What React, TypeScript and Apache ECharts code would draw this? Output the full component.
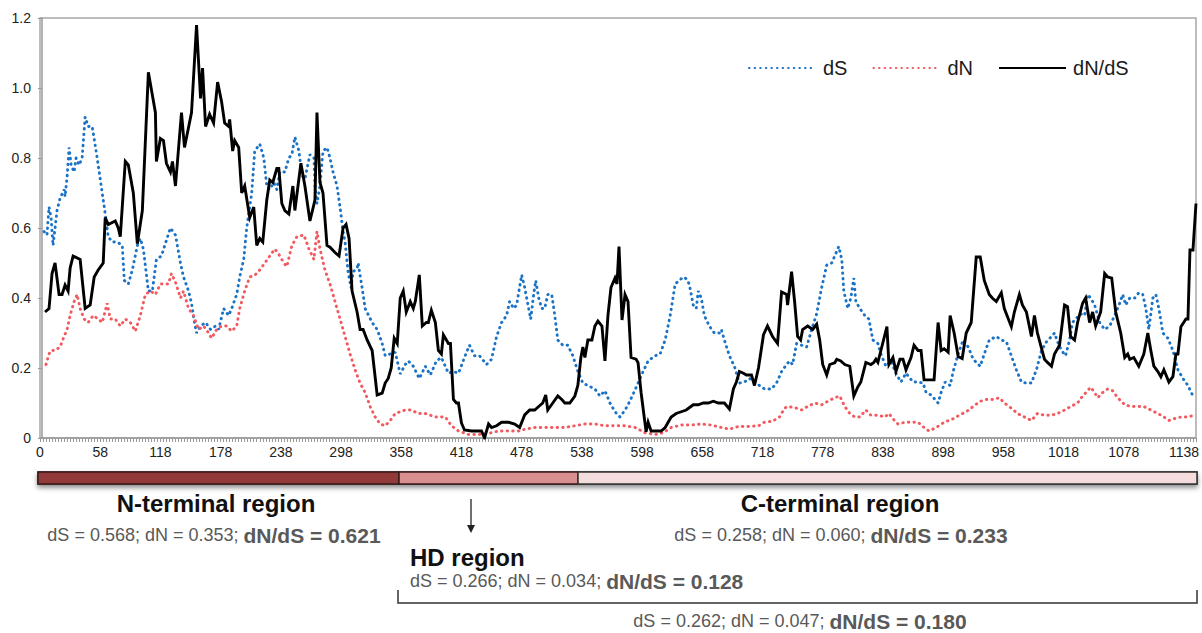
import React, { useEffect, useRef } from "react";
import * as echarts from "echarts";

// x positions (codon position) and values
const dS: [number, number][] = [[2,0.59],[5,0.58],[7,0.66],[9,0.63],[11,0.55],[13,0.60],[15,0.65],[18,0.685],[22,0.71],[23,0.69],[25,0.746],[27,0.83],[29,0.78],[32,0.76],[34,0.80],[37,0.78],[40,0.80],[43,0.917],[46,0.89],[50,0.89],[55,0.80],[60,0.70],[63,0.64],[66,0.575],[70,0.56],[75,0.56],[80,0.55],[82,0.45],[86,0.44],[90,0.48],[95,0.55],[98,0.57],[101,0.54],[106,0.42],[110,0.42],[114,0.51],[119,0.52],[124,0.565],[128,0.60],[133,0.58],[138,0.50],[141,0.46],[146,0.42],[149,0.385],[152,0.33],[154,0.30],[158,0.32],[163,0.33],[168,0.31],[173,0.32],[176,0.31],[181,0.37],[186,0.35],[189,0.37],[194,0.41],[197,0.46],[201,0.51],[204,0.60],[206,0.64],[209,0.70],[212,0.82],[217,0.84],[221,0.80],[224,0.72],[227,0.71],[231,0.73],[234,0.71],[237,0.76],[242,0.76],[246,0.80],[249,0.81],[252,0.86],[256,0.82],[259,0.75],[262,0.74],[267,0.81],[271,0.80],[272,0.72],[274,0.67],[277,0.72],[280,0.82],[284,0.83],[287,0.80],[290,0.76],[294,0.72],[297,0.66],[300,0.59],[302,0.56],[305,0.475],[308,0.43],[310,0.475],[314,0.485],[315,0.50],[319,0.43],[322,0.37],[329,0.33],[334,0.31],[339,0.27],[342,0.235],[347,0.24],[352,0.245],[357,0.183],[362,0.21],[365,0.22],[370,0.205],[376,0.17],[382,0.205],[387,0.18],[393,0.22],[398,0.23],[405,0.185],[410,0.19],[415,0.185],[421,0.23],[426,0.265],[431,0.235],[436,0.235],[443,0.21],[448,0.225],[453,0.29],[458,0.33],[463,0.35],[466,0.39],[470,0.37],[473,0.38],[478,0.466],[481,0.43],[485,0.37],[487,0.34],[490,0.41],[492,0.45],[495,0.40],[498,0.37],[501,0.37],[504,0.41],[508,0.41],[511,0.35],[514,0.28],[519,0.265],[524,0.265],[529,0.235],[534,0.19],[539,0.157],[544,0.15],[551,0.14],[556,0.12],[561,0.135],[566,0.10],[571,0.075],[576,0.06],[581,0.08],[584,0.095],[589,0.125],[594,0.157],[599,0.19],[604,0.22],[611,0.235],[616,0.24],[621,0.28],[626,0.35],[631,0.44],[635,0.45],[639,0.46],[642,0.455],[645,0.44],[649,0.38],[652,0.37],[654,0.42],[657,0.40],[660,0.35],[665,0.32],[670,0.30],[675,0.30],[677,0.31],[680,0.28],[685,0.235],[690,0.205],[695,0.157],[700,0.16],[705,0.17],[710,0.16],[715,0.15],[720,0.14],[727,0.14],[732,0.157],[737,0.19],[742,0.21],[745,0.22],[748,0.21],[752,0.27],[757,0.265],[762,0.26],[767,0.31],[772,0.355],[777,0.43],[782,0.494],[787,0.50],[790,0.52],[794,0.547],[797,0.51],[799,0.42],[803,0.37],[806,0.40],[809,0.457],[811,0.39],[815,0.37],[820,0.35],[824,0.34],[828,0.28],[833,0.27],[836,0.24],[841,0.205],[846,0.22],[851,0.185],[856,0.16],[861,0.185],[868,0.16],[873,0.16],[878,0.157],[881,0.13],[886,0.123],[893,0.10],[896,0.13],[900,0.16],[905,0.15],[908,0.19],[913,0.24],[918,0.28],[923,0.26],[928,0.225],[935,0.205],[939,0.24],[944,0.28],[951,0.29],[956,0.28],[961,0.275],[966,0.235],[971,0.195],[976,0.16],[981,0.157],[986,0.157],[991,0.195],[996,0.25],[1001,0.275],[1006,0.29],[1009,0.30],[1012,0.275],[1016,0.25],[1020,0.235],[1024,0.28],[1027,0.33],[1030,0.34],[1035,0.355],[1039,0.35],[1042,0.41],[1045,0.40],[1049,0.38],[1054,0.33],[1059,0.31],[1064,0.32],[1069,0.35],[1074,0.385],[1077,0.41],[1080,0.38],[1084,0.40],[1089,0.40],[1093,0.415],[1097,0.41],[1100,0.37],[1103,0.31],[1107,0.40],[1110,0.41],[1113,0.37],[1117,0.30],[1122,0.285],[1127,0.25],[1132,0.195],[1137,0.17],[1142,0.15],[1147,0.12],[1149,0.115]];

const dN: [number, number][] = [[4,0.21],[7,0.24],[9,0.25],[13,0.25],[18,0.26],[22,0.29],[25,0.31],[28,0.35],[32,0.39],[35,0.41],[38,0.37],[42,0.34],[46,0.33],[51,0.35],[56,0.34],[60,0.33],[65,0.385],[68,0.34],[73,0.34],[78,0.32],[83,0.34],[88,0.33],[93,0.305],[98,0.35],[103,0.41],[108,0.42],[113,0.41],[118,0.44],[123,0.44],[126,0.44],[129,0.47],[133,0.445],[138,0.40],[141,0.42],[146,0.37],[151,0.35],[156,0.31],[161,0.32],[166,0.30],[169,0.285],[174,0.31],[179,0.32],[184,0.32],[189,0.305],[194,0.32],[197,0.37],[202,0.42],[207,0.46],[212,0.465],[217,0.48],[222,0.50],[227,0.52],[232,0.54],[236,0.525],[241,0.50],[244,0.49],[249,0.55],[254,0.575],[261,0.58],[266,0.54],[271,0.51],[274,0.59],[277,0.54],[282,0.48],[287,0.44],[292,0.39],[297,0.34],[302,0.29],[307,0.24],[312,0.195],[317,0.157],[322,0.13],[327,0.09],[332,0.06],[337,0.04],[342,0.035],[347,0.05],[352,0.07],[357,0.075],[362,0.08],[368,0.08],[375,0.07],[382,0.07],[392,0.06],[402,0.06],[408,0.035],[415,0.02],[425,0.01],[435,0.01],[445,0.013],[455,0.02],[465,0.02],[475,0.02],[481,0.025],[491,0.03],[501,0.03],[511,0.03],[521,0.03],[531,0.035],[541,0.04],[551,0.04],[561,0.035],[571,0.035],[581,0.035],[591,0.03],[601,0.015],[611,0.01],[619,0.015],[627,0.03],[637,0.037],[647,0.037],[657,0.04],[667,0.037],[677,0.03],[685,0.025],[694,0.033],[704,0.033],[714,0.035],[720,0.045],[728,0.048],[735,0.06],[740,0.085],[743,0.09],[750,0.087],[757,0.08],[763,0.09],[770,0.10],[777,0.095],[783,0.105],[790,0.115],[795,0.12],[800,0.09],[805,0.07],[810,0.06],[815,0.06],[821,0.08],[826,0.065],[833,0.065],[840,0.06],[844,0.07],[848,0.055],[853,0.04],[860,0.045],[866,0.045],[873,0.045],[879,0.03],[884,0.02],[891,0.03],[899,0.045],[908,0.055],[914,0.065],[921,0.075],[928,0.09],[935,0.105],[941,0.11],[948,0.11],[954,0.115],[959,0.10],[966,0.085],[972,0.07],[979,0.06],[986,0.05],[992,0.07],[999,0.065],[1006,0.065],[1012,0.07],[1019,0.08],[1025,0.09],[1032,0.10],[1037,0.12],[1042,0.135],[1045,0.145],[1049,0.13],[1052,0.115],[1057,0.13],[1062,0.14],[1067,0.135],[1072,0.115],[1079,0.095],[1085,0.09],[1092,0.09],[1098,0.09],[1105,0.08],[1112,0.07],[1118,0.06],[1123,0.05],[1128,0.055],[1135,0.06],[1142,0.06],[1148,0.065]];

const dNdS: [number, number][] = [[3,0.36],[7,0.37],[10,0.47],[13,0.50],[17,0.41],[20,0.41],[23,0.437],[26,0.42],[28,0.485],[31,0.52],[38,0.51],[43,0.37],[48,0.38],[52,0.46],[56,0.48],[61,0.50],[63,0.63],[66,0.61],[73,0.62],[76,0.60],[78,0.575],[83,0.79],[86,0.78],[91,0.70],[95,0.555],[100,0.65],[106,1.045],[113,0.93],[114,0.79],[118,0.856],[121,0.85],[124,0.785],[128,0.76],[130,0.79],[133,0.72],[139,0.93],[142,0.83],[149,0.93],[154,1.18],[158,0.97],[160,1.057],[163,0.89],[167,0.925],[171,0.90],[175,1.017],[179,0.96],[182,0.90],[186,0.89],[187,0.91],[190,0.82],[192,0.85],[196,0.83],[199,0.70],[202,0.72],[207,0.63],[211,0.66],[214,0.55],[217,0.57],[220,0.56],[224,0.68],[227,0.737],[230,0.73],[234,0.77],[236,0.77],[239,0.67],[242,0.65],[246,0.64],[250,0.72],[252,0.65],[258,0.785],[262,0.72],[267,0.62],[272,0.68],[274,0.93],[277,0.73],[280,0.70],[284,0.55],[287,0.545],[292,0.53],[296,0.52],[300,0.60],[303,0.61],[306,0.57],[309,0.42],[314,0.36],[317,0.31],[320,0.31],[324,0.28],[329,0.25],[334,0.123],[339,0.128],[342,0.157],[345,0.17],[348,0.20],[351,0.285],[354,0.27],[357,0.40],[360,0.42],[363,0.36],[367,0.39],[370,0.37],[372,0.39],[376,0.466],[379,0.32],[383,0.33],[385,0.33],[388,0.365],[392,0.33],[395,0.25],[398,0.24],[400,0.295],[405,0.27],[407,0.27],[410,0.11],[413,0.10],[415,0.10],[418,0.043],[421,0.023],[428,0.02],[438,0.02],[441,0.0],[445,0.04],[448,0.03],[453,0.035],[458,0.045],[465,0.045],[471,0.04],[476,0.03],[481,0.066],[486,0.08],[491,0.08],[495,0.09],[499,0.10],[502,0.123],[504,0.08],[509,0.10],[514,0.12],[518,0.11],[521,0.10],[526,0.10],[531,0.12],[534,0.15],[537,0.23],[539,0.26],[541,0.23],[544,0.28],[548,0.28],[551,0.32],[554,0.334],[558,0.32],[561,0.22],[564,0.35],[567,0.43],[571,0.457],[573,0.44],[575,0.547],[578,0.337],[581,0.41],[584,0.39],[587,0.23],[592,0.225],[594,0.215],[597,0.13],[602,0.018],[604,0.045],[607,0.02],[617,0.02],[621,0.03],[627,0.06],[632,0.07],[637,0.075],[642,0.08],[649,0.095],[654,0.095],[659,0.10],[664,0.10],[669,0.105],[674,0.10],[680,0.10],[685,0.083],[689,0.14],[692,0.16],[695,0.19],[699,0.185],[702,0.18],[707,0.18],[710,0.15],[714,0.20],[719,0.295],[723,0.32],[728,0.29],[733,0.27],[737,0.417],[742,0.41],[743,0.38],[747,0.475],[750,0.39],[753,0.29],[756,0.28],[758,0.31],[763,0.32],[768,0.31],[772,0.325],[775,0.28],[778,0.21],[782,0.18],[785,0.21],[790,0.215],[792,0.225],[796,0.22],[800,0.21],[805,0.205],[809,0.12],[813,0.146],[816,0.16],[821,0.216],[826,0.21],[829,0.216],[831,0.225],[833,0.216],[836,0.25],[842,0.318],[844,0.21],[848,0.23],[851,0.19],[855,0.225],[858,0.225],[861,0.195],[866,0.23],[869,0.265],[873,0.25],[876,0.25],[879,0.166],[884,0.166],[889,0.166],[893,0.33],[896,0.25],[899,0.255],[903,0.245],[905,0.35],[909,0.30],[913,0.233],[917,0.227],[921,0.30],[926,0.33],[931,0.517],[935,0.517],[939,0.45],[944,0.41],[947,0.40],[951,0.39],[956,0.415],[959,0.37],[966,0.318],[969,0.36],[974,0.41],[977,0.38],[981,0.36],[986,0.29],[989,0.35],[992,0.30],[996,0.257],[999,0.225],[1002,0.216],[1006,0.205],[1009,0.24],[1014,0.265],[1019,0.38],[1022,0.375],[1025,0.29],[1029,0.28],[1032,0.33],[1037,0.385],[1040,0.40],[1044,0.33],[1047,0.36],[1050,0.32],[1055,0.36],[1059,0.47],[1062,0.46],[1066,0.457],[1070,0.36],[1075,0.30],[1079,0.23],[1082,0.24],[1084,0.225],[1088,0.23],[1093,0.205],[1098,0.24],[1102,0.30],[1105,0.25],[1108,0.205],[1112,0.19],[1115,0.175],[1118,0.195],[1123,0.16],[1127,0.175],[1130,0.24],[1132,0.24],[1135,0.318],[1140,0.34],[1142,0.34],[1144,0.537],[1147,0.537],[1150,0.67]];

const seriesNames = ["dS", "dN", "dN/dS"];
const seriesColors = ["#1a73c6", "#f25a5f", "#000000"];

const X_MIN = -2;
const X_MAX = 1150;
const X_LABEL_STEP = 60;
const X_MINOR_STEP = 3;

const regionStats = [
  { title: "N-terminal region", ds: "0.568", dn: "0.353", ratio: "0.621" },
  { title: "HD region", ds: "0.266", dn: "0.034", ratio: "0.128" },
  { title: "C-terminal region", ds: "0.258", dn: "0.060", ratio: "0.233" },
  { title: "", ds: "0.262", dn: "0.047", ratio: "0.180" },
];

const FONT = "'Liberation Sans', Arial, Helvetica, sans-serif";

function statText(i: number) {
  const r = regionStats[i];
  return `{n|dS = ${r.ds}; dN = ${r.dn}; }{b|dN/dS = ${r.ratio}}`;
}

const statRich = {
  n: { fontSize: 18, fontFamily: FONT, fill: "#595959" },
  b: { fontSize: 21, fontWeight: "bold", fontFamily: FONT, fill: "#595959" },
};

export default function App() {
  const ref = useRef<HTMLDivElement>(null);
  useEffect(() => {
    if (!ref.current) return;
    const chart = echarts.init(ref.current, undefined, { renderer: "svg" });
    const dotted = { type: [0.5, 5.1] as any, width: 2.9, cap: "round" as any };
    chart.setOption({
      animation: false,
      backgroundColor: "#ffffff",
      textStyle: { fontFamily: FONT },
      grid: {
        left: 40, right: 5, top: 18, bottom: 195,
        show: true, borderColor: "#a8a8a8", borderWidth: 1.5,
      },
      legend: {
        left: 743, top: 53,
        itemWidth: 67, itemHeight: 14, itemGap: 25,
        data: seriesNames,
        itemStyle: { opacity: 0 },
        textStyle: { fontSize: 20, color: "#1a1a1a", fontFamily: FONT, padding: [0, 0, 0, 2] },
      },
      xAxis: [
        {
          type: "value", min: X_MIN, max: X_MAX, interval: X_LABEL_STEP,
          axisLine: { show: true, lineStyle: { color: "#9a9a9a", width: 1.5 } },
          axisTick: { show: false },
          splitLine: { show: false },
          axisLabel: {
            color: "#222", fontSize: 14, fontFamily: FONT, margin: 7,
            showMaxLabel: false,
            formatter: (v: number) => (v < 0 ? "0" : String(v)),
          },
        },
        {
          type: "value", min: X_MIN, max: X_MAX, interval: X_MINOR_STEP,
          position: "bottom",
          axisLine: { show: false },
          axisTick: { show: true, length: 4, lineStyle: { color: "#9a9a9a", width: 1 } },
          splitLine: { show: false },
          axisLabel: { show: false },
        },
      ],
      yAxis: {
        type: "value", min: 0, max: 1.2, interval: 0.2,
        axisLine: { show: true, lineStyle: { color: "#9a9a9a", width: 1.5 } },
        axisTick: { show: true, length: 4, lineStyle: { color: "#9a9a9a" } },
        splitLine: { show: false },
        axisLabel: {
          color: "#222", fontSize: 14, fontFamily: FONT, margin: 9,
          formatter: (v: number) => (v === 0 ? "0" : v.toFixed(1)),
        },
      },
      series: [
        {
          name: seriesNames[0], type: "line", data: dS, xAxisIndex: 0,
          symbol: "none", showSymbol: false, z: 2,
          lineStyle: { ...dotted, color: seriesColors[0] },
          itemStyle: { color: seriesColors[0] },
        },
        {
          name: seriesNames[1], type: "line", data: dN, xAxisIndex: 0,
          symbol: "none", showSymbol: false, z: 2,
          lineStyle: { ...dotted, color: seriesColors[1] },
          itemStyle: { color: seriesColors[1] },
        },
        {
          name: seriesNames[2], type: "line", data: dNdS, xAxisIndex: 0,
          symbol: "none", showSymbol: false, z: 3,
          lineStyle: { width: 2.9, color: seriesColors[2], join: "miter" },
          itemStyle: { color: seriesColors[2] },
        },
      ],
      graphic: [
        {
          type: "rect", shape: { x: 38, y: 472, width: 1159, height: 12 },
          style: { fill: "#f4dcdc", stroke: "#333", lineWidth: 1.5, shadowBlur: 5, shadowOffsetY: 3, shadowColor: "rgba(0,0,0,0.45)" },
        },
        { type: "rect", shape: { x: 38, y: 472, width: 361, height: 12 }, style: { fill: "#923939", stroke: "#3a1a1a", lineWidth: 1.5 } },
        { type: "rect", shape: { x: 399, y: 472, width: 179, height: 12 }, style: { fill: "#d98f8f", stroke: "#3a1a1a", lineWidth: 1.5 } },
        { type: "rect", shape: { x: 578, y: 472, width: 619, height: 12 }, style: { fill: "#f4dcdc", stroke: "#333", lineWidth: 1.5 } },
        {
          type: "text", x: 216, y: 503,
          style: { text: regionStats[0].title, fontSize: 24, fontWeight: "bold", fontFamily: FONT, fill: "#111", align: "center", verticalAlign: "middle" },
        },
        {
          type: "text", x: 214, y: 535,
          style: { text: statText(0), rich: statRich, align: "center", verticalAlign: "middle" },
        },
        { type: "line", shape: { x1: 471, y1: 499, x2: 471, y2: 528 }, style: { stroke: "#222", lineWidth: 1.3 } },
        { type: "polygon", shape: { points: [[467, 525], [475, 525], [471, 533]] }, style: { fill: "#222" } },
        {
          type: "text", x: 410, y: 557,
          style: { text: regionStats[1].title, fontSize: 24, fontWeight: "bold", fontFamily: FONT, fill: "#111", align: "left", verticalAlign: "middle" },
        },
        {
          type: "text", x: 410, y: 581,
          style: { text: statText(1), rich: statRich, align: "left", verticalAlign: "middle" },
        },
        {
          type: "polyline", shape: { points: [[398, 590], [398, 603], [1197, 603], [1197, 590]] },
          style: { stroke: "#333", lineWidth: 1.5, fill: "none" },
        },
        {
          type: "text", x: 840, y: 503,
          style: { text: regionStats[2].title, fontSize: 24, fontWeight: "bold", fontFamily: FONT, fill: "#111", align: "center", verticalAlign: "middle" },
        },
        {
          type: "text", x: 841, y: 535,
          style: { text: statText(2), rich: statRich, align: "center", verticalAlign: "middle" },
        },
        {
          type: "text", x: 800, y: 621,
          style: { text: statText(3), rich: statRich, align: "center", verticalAlign: "middle" },
        },
      ],
    });
    return () => chart.dispose();
  }, []);
  return <div ref={ref} style={{ position: "fixed", left: 0, top: 0, width: 1202, height: 633 }} />;
}
